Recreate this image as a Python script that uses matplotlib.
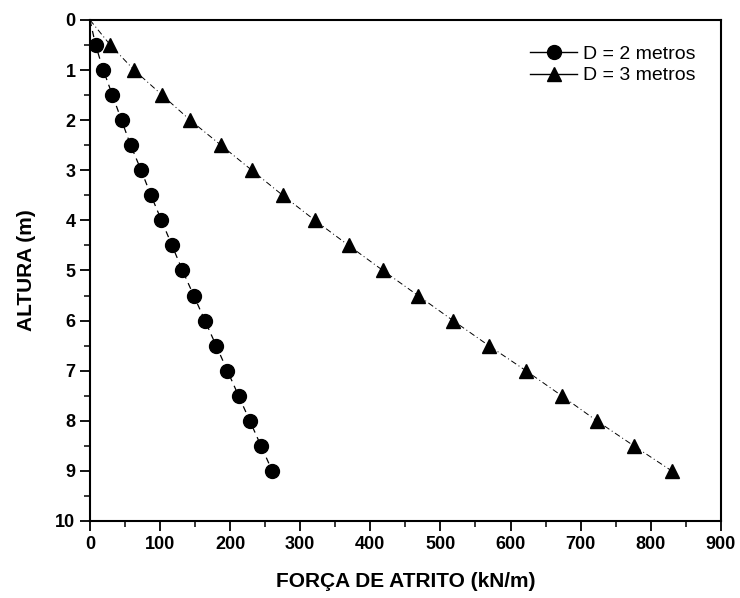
import matplotlib
matplotlib.use('Agg')
import matplotlib.pyplot as plt
from matplotlib.ticker import MultipleLocator

plt.rcParams['font.family'] = ['Liberation Sans', 'DejaVu Sans']

altura = [0, 0.5, 1, 1.5, 2, 2.5, 3, 3.5, 4, 4.5, 5, 5.5, 6, 6.5, 7, 7.5, 8, 8.5, 9]
forca_d2 = [0, 8, 19, 32, 45, 58, 73, 87, 102, 117, 132, 148, 164, 180, 196, 212, 228, 244, 260]
forca_d3 = [0, 29, 63, 103, 143, 187, 231, 275, 321, 369, 418, 468, 518, 569, 622, 673, 723, 776, 830]

fig = plt.figure(figsize=(7.4, 5.98), dpi=100)
ax = fig.add_axes([0.1216, 0.1288, 0.8524, 0.8378])

marks = list(range(1, len(altura)))
ax.plot(forca_d2, altura, color='black', linestyle=(0, (5, 4)), linewidth=0.9,
        marker='o', markersize=10, markevery=marks, label='D = 2 metros')
ax.plot(forca_d3, altura, color='black', linestyle=(0, (6, 3, 1, 3)), linewidth=0.7,
        marker='^', markersize=9.5, markevery=marks, label='D = 3 metros')

ax.set_xlim(0, 900)
ax.set_ylim(10, 0)
ax.xaxis.set_major_locator(MultipleLocator(100))
ax.xaxis.set_minor_locator(MultipleLocator(50))
ax.yaxis.set_major_locator(MultipleLocator(1))
ax.yaxis.set_minor_locator(MultipleLocator(0.5))
ax.tick_params(which='major', direction='out', length=7, width=1.3, labelsize=13)
ax.tick_params(which='minor', direction='out', length=4, width=1.1)
for lbl in ax.get_xticklabels() + ax.get_yticklabels():
    lbl.set_fontweight('bold')
for s in ax.spines.values():
    s.set_linewidth(1.5)

ax.set_xlabel('FORÇA DE ATRITO (kN/m)', fontsize=15, fontweight='bold', labelpad=14)
ax.set_ylabel('ALTURA (m)', fontsize=15, fontweight='bold', labelpad=14)

leg = ax.legend(loc='upper right', frameon=False, fontsize=14, handlelength=2.4,
                handletextpad=0.3, borderaxespad=0.9, labelspacing=0.2)
for line in leg.get_lines():
    line.set_linestyle('-')
    line.set_linewidth(1.0)

fig.savefig('out.png', dpi=100)
